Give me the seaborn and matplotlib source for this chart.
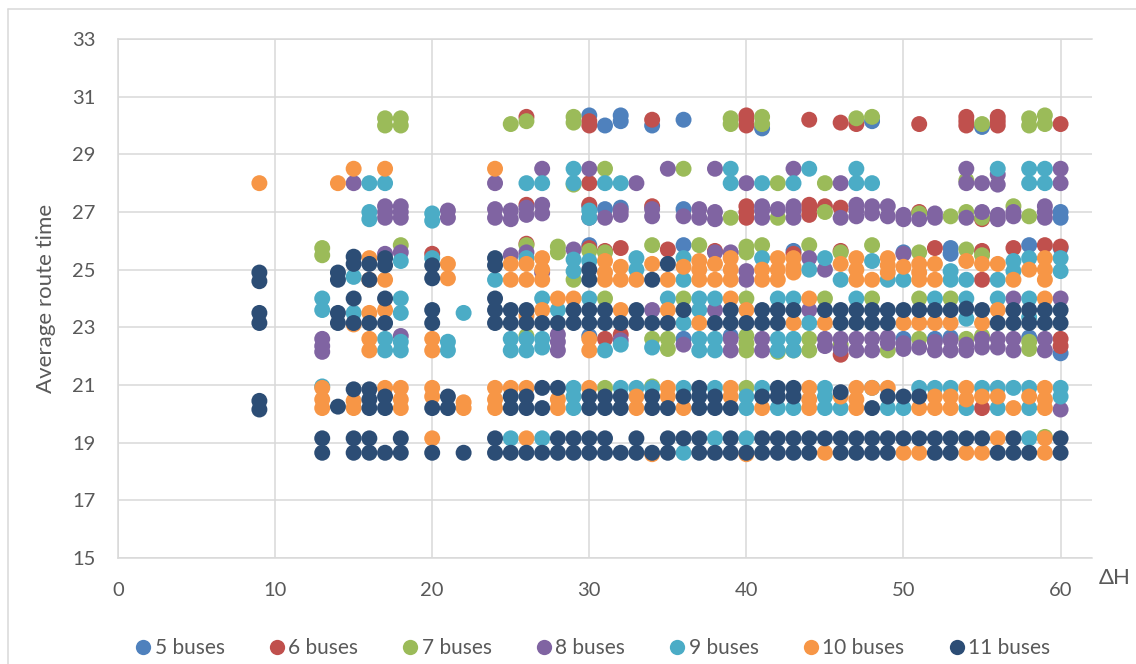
import pandas as pd
import matplotlib
matplotlib.use("Agg")
import matplotlib.pyplot as plt
from matplotlib.lines import Line2D
import seaborn as sns

sns.set_theme(style="white")
plt.rcParams["font.family"] = ["Lato", "DejaVu Sans"]

GREY_TXT = "#595959"
GRID = "#d9d9d9"

series_names = ["5 buses", "6 buses", "7 buses", "8 buses", "9 buses", "10 buses", "11 buses"]
series_colors = ["#4F81BD", "#C0504D", "#9BBB59", "#8064A2", "#4BACC6", "#F79646", "#2C4D75"]

# (delta H, average route time), one list per fleet size
bus5 = [(30, 30.35), (31, 30.0), (32, 30.15), (32, 30.35), (34, 30.0), (36, 30.2), (41, 29.9),
        (48, 30.15), (55, 29.95),
        (30, 27.2), (31, 27.1), (32, 27.15), (36, 27.1), (60, 26.8), (60, 27.0),
        (30, 25.85), (36, 25.85), (43, 25.65), (50, 25.6), (53, 25.55), (53, 25.75), (58, 25.85),
        (60, 25.75),
        (30, 22.7), (36, 22.6), (39, 22.7), (50, 22.6), (52, 22.6), (53, 22.65), (58, 22.65), (60, 22.1)]

bus6 = [(26, 30.3), (30, 30.0), (30, 30.15), (34, 30.2), (40, 30.0), (40, 30.2), (40, 30.35),
        (44, 30.2), (46, 30.1), (47, 30.05), (51, 30.05), (54, 30.0), (54, 30.15), (54, 30.3),
        (56, 30.0), (56, 30.15), (56, 30.3), (60, 30.05),
        (30, 28.0),
        (26, 27.25), (30, 27.25), (34, 27.2), (40, 26.8), (40, 27.0), (40, 27.2), (44, 26.9),
        (44, 27.1), (44, 27.25), (45, 27.2), (46, 27.15), (51, 27.0), (55, 26.75),
        (20, 25.55), (26, 25.9), (30, 25.75), (31, 25.65), (32, 25.75), (35, 25.7), (38, 25.65),
        (43, 25.55), (46, 25.65), (52, 25.75), (55, 25.65), (57, 25.75), (59, 25.85), (60, 25.8),
        (55, 24.65),
        (31, 22.6), (32, 22.75), (46, 22.05), (60, 22.35), (60, 22.6),
        (55, 20.2)]

bus7 = [(17, 30.0), (17, 30.25), (18, 30.0), (18, 30.25), (25, 30.05), (26, 30.15), (29, 30.1),
        (29, 30.3), (39, 30.05), (39, 30.25), (41, 30.05), (41, 30.3), (47, 30.25), (48, 30.3),
        (55, 30.05), (58, 30.0), (58, 30.25), (59, 30.05), (59, 30.35),
        (29, 27.95), (31, 28.5), (36, 28.5), (42, 28.0), (45, 28.0), (54, 28.1),
        (39, 26.8), (42, 26.8), (45, 27.0), (51, 26.95), (53, 26.85), (54, 27.0), (55, 26.8),
        (57, 27.2), (58, 26.85),
        (13, 25.5), (13, 25.75), (18, 25.85), (26, 25.85), (28, 25.6), (28, 25.8), (30, 25.65),
        (31, 25.6), (34, 25.85), (37, 25.85), (40, 25.6), (40, 25.8), (41, 25.85), (44, 25.85),
        (46, 25.6), (48, 25.85), (51, 25.6), (54, 25.7), (55, 25.5), (29, 24.65),
        (31, 24.0), (36, 24.0), (40, 24.0), (45, 24.0), (48, 24.0), (51, 24.0), (53, 24.0),
        (26, 22.7), (34, 22.6), (35, 22.25), (35, 22.6), (40, 22.2), (40, 22.45), (40, 22.7),
        (42, 22.15), (43, 22.2), (44, 22.2), (44, 22.6), (46, 22.4), (49, 22.2), (51, 22.6),
        (54, 22.6), (55, 22.7), (58, 22.25), (58, 22.5),
        (31, 20.9), (34, 20.95), (40, 20.9), (59, 19.2)]

bus8 = [(15, 28.0), (24, 28.0), (27, 28.5), (30, 28.5), (33, 28.0), (35, 28.5), (38, 28.5),
        (40, 28.0), (43, 28.5), (46, 28.0), (54, 28.5), (54, 28.0), (55, 28.0), (56, 28.3),
        (56, 27.95), (60, 28.5), (60, 28.0),
        (17, 26.8), (17, 27.0), (17, 27.2), (18, 26.8), (18, 27.0), (18, 27.2), (21, 26.8),
        (21, 27.05), (24, 26.8), (24, 27.1), (25, 26.75), (25, 27.05), (26, 26.9), (26, 27.15),
        (27, 26.95), (27, 27.25), (30, 26.8), (31, 26.8), (32, 26.9), (32, 27.05), (34, 26.85),
        (34, 27.1), (36, 26.85), (37, 26.8), (37, 27.1), (38, 26.75), (38, 27.0), (41, 26.8),
        (41, 27.05), (41, 27.2), (42, 27.1), (43, 26.8), (43, 27.05), (43, 27.2), (46, 26.8),
        (47, 26.85), (47, 27.05), (47, 27.25), (48, 26.95), (48, 27.2), (49, 26.85), (49, 27.2),
        (50, 26.75), (50, 26.9), (51, 26.75), (52, 26.8), (52, 26.95), (54, 26.8), (55, 27.0),
        (56, 26.75), (56, 26.9), (57, 26.85), (57, 27.0), (59, 26.8), (59, 27.0), (59, 27.2),
        (17, 25.55), (18, 25.6), (25, 25.5), (26, 25.6), (29, 25.7), (38, 25.6), (39, 25.6),
        (44, 25.4), (45, 25.0), (50, 25.55),
        (27, 24.9), (40, 24.65), (40, 24.95),
        (34, 23.6), (38, 23.6), (44, 23.6), (57, 24.0), (60, 24.0),
        (13, 22.15), (13, 22.35), (13, 22.6), (18, 22.7), (28, 22.2), (28, 22.5), (28, 22.75),
        (32, 22.55), (36, 22.4), (39, 22.2), (39, 22.6), (41, 22.2), (41, 22.6), (45, 22.35),
        (45, 22.6), (46, 22.25), (46, 22.6), (47, 22.2), (47, 22.6), (48, 22.2), (48, 22.6),
        (49, 22.45), (49, 22.65), (50, 22.25), (50, 22.45), (51, 22.3), (52, 22.2), (52, 22.5),
        (53, 22.2), (53, 22.55), (54, 22.2), (54, 22.4), (55, 22.3), (55, 22.6), (56, 22.3),
        (56, 22.6), (57, 22.2), (57, 22.6), (59, 22.2), (59, 22.6),
        (60, 20.15)]

bus9 = [(16, 28.0), (17, 28.0), (26, 28.0), (27, 28.0), (29, 28.5), (29, 28.0), (31, 28.0),
        (32, 28.0), (39, 28.5), (39, 28.0), (41, 28.0), (43, 28.0), (44, 28.5), (47, 28.5),
        (47, 28.0), (48, 28.0), (56, 28.5), (58, 28.5), (58, 28.0), (59, 28.5), (59, 28.0),
        (16, 26.75), (16, 27.0), (20, 26.7), (20, 26.95), (30, 26.8), (30, 27.05),
        (15, 24.75), (18, 25.3), (20, 25.4), (24, 24.65), (26, 25.4), (29, 25.35), (29, 24.95),
        (30, 25.3), (33, 25.4), (33, 25.0), (36, 25.4), (36, 24.65), (41, 25.4), (44, 25.0),
        (45, 25.4), (46, 24.65), (48, 25.3), (49, 24.65), (50, 24.65), (53, 24.95), (53, 24.65),
        (54, 24.65), (56, 24.65), (57, 25.3), (57, 24.95), (58, 25.4), (60, 25.4), (60, 24.95),
        (13, 24.0), (13, 23.6), (15, 23.5), (18, 24.0), (18, 23.5), (22, 23.5), (27, 24.0),
        (28, 23.6), (30, 24.0), (35, 24.0), (36, 23.15), (37, 24.0), (37, 23.6), (38, 24.0),
        (42, 24.0), (43, 24.0), (44, 23.15), (47, 24.0), (52, 24.0), (54, 24.0), (54, 23.3),
        (56, 24.0), (58, 24.0), (58, 23.35),
        (17, 22.2), (17, 22.6), (18, 22.2), (18, 22.5), (21, 22.2), (21, 22.5), (25, 22.2),
        (25, 22.6), (26, 22.2), (26, 22.6), (27, 22.3), (27, 22.6), (31, 22.2), (32, 22.4),
        (34, 22.3), (37, 22.2), (37, 22.6), (38, 22.2), (38, 22.6), (42, 22.2), (42, 22.6),
        (43, 22.2), (43, 22.6),
        (13, 20.95), (29, 20.2), (29, 20.6), (29, 20.9), (32, 20.9), (33, 20.9), (34, 20.9),
        (36, 20.9), (38, 20.9), (40, 20.6), (40, 20.2), (41, 20.9), (42, 20.2), (43, 20.2),
        (45, 20.2), (45, 20.6), (45, 20.9), (46, 20.2), (48, 20.9), (49, 20.2), (50, 20.2),
        (51, 20.9), (52, 20.9), (53, 20.9), (54, 20.2), (55, 20.9), (56, 20.9), (56, 20.2),
        (57, 20.9), (58, 20.9), (58, 20.2), (60, 20.6), (60, 20.9),
        (25, 19.15), (27, 19.15), (38, 19.15), (40, 19.15), (58, 19.15), (36, 18.65)]

bus10 = [(9, 28.0), (14, 28.0), (15, 28.5), (17, 28.5), (24, 28.5),
         (16, 25.4), (16, 24.65), (17, 24.65), (21, 25.2), (21, 24.7), (25, 25.2), (25, 24.65),
         (26, 25.2), (26, 24.65), (27, 25.4), (27, 25.0), (27, 24.65), (31, 25.3), (31, 24.9),
         (31, 24.65), (32, 25.1), (32, 24.65), (33, 24.65), (34, 25.2), (35, 24.65), (36, 25.1),
         (37, 25.3), (37, 25.0), (37, 24.65), (38, 25.2), (38, 24.65), (39, 25.4), (39, 25.0),
         (39, 24.65), (41, 25.0), (41, 24.65), (42, 25.4), (42, 25.0), (42, 24.65), (43, 25.4),
         (43, 25.1), (43, 24.9), (46, 25.2), (47, 25.4), (47, 25.0), (47, 24.65), (48, 24.65),
         (49, 25.4), (49, 25.15), (49, 24.9), (50, 25.1), (51, 25.2), (51, 24.9), (51, 24.65),
         (52, 25.2), (52, 24.65), (54, 25.3), (55, 25.2), (56, 25.2), (57, 24.65), (58, 25.0),
         (59, 25.4), (59, 25.0), (59, 24.65),
         (15, 23.1), (16, 23.5), (17, 23.6), (26, 23.4), (27, 23.6), (28, 24.0), (29, 24.0),
         (32, 23.6), (35, 23.6), (37, 23.15), (39, 24.0), (40, 23.6), (43, 23.15), (44, 24.0),
         (45, 23.15), (50, 23.15), (51, 23.15), (52, 23.15), (53, 23.15), (55, 23.15), (56, 23.6),
         (59, 24.0),
         (16, 22.2), (16, 22.6), (20, 22.2), (20, 22.6), (30, 22.2), (30, 22.6),
         (13, 20.2), (13, 20.5), (13, 20.9), (15, 20.2), (15, 20.45), (17, 20.9), (18, 20.2),
         (18, 20.5), (18, 20.9), (20, 20.6), (20, 20.9), (22, 20.2), (22, 20.4), (24, 20.2),
         (24, 20.5), (24, 20.9), (25, 20.9), (26, 20.9), (28, 20.2), (28, 20.5), (30, 20.9),
         (33, 20.2), (33, 20.6), (35, 20.6), (35, 20.9), (36, 20.2), (39, 20.6), (39, 20.9),
         (41, 20.2), (44, 20.2), (44, 20.5), (44, 20.9), (46, 20.6), (47, 20.2), (47, 20.5),
         (47, 20.9), (48, 20.9), (49, 20.9), (51, 20.2), (52, 20.2), (52, 20.6), (53, 20.2),
         (53, 20.6), (54, 20.5), (54, 20.9), (55, 20.6), (56, 20.6), (57, 20.2), (58, 20.6),
         (59, 20.2), (59, 20.5), (59, 20.9),
         (20, 19.15), (26, 19.15), (56, 19.15), (59, 19.15), (34, 18.6), (40, 18.6), (45, 18.65),
         (50, 18.65), (51, 18.65), (54, 18.65), (55, 18.65), (59, 18.65)]

bus11 = [(9, 24.9), (9, 24.6), (14, 24.9), (14, 24.65), (15, 25.45), (15, 25.2), (16, 25.2),
         (16, 24.65), (17, 25.4), (17, 25.15), (20, 25.15), (20, 24.7), (24, 25.4), (24, 25.15),
         (30, 25.0), (30, 24.65), (34, 24.65), (35, 25.2),
         (9, 23.5), (9, 23.15), (14, 23.5), (14, 23.15), (15, 24.0), (15, 23.15), (16, 23.15),
         (17, 24.0), (17, 23.15), (20, 23.6), (20, 23.15), (24, 24.0), (24, 23.6), (24, 23.15),
         (25, 23.6), (25, 23.15), (26, 23.6), (26, 23.15), (27, 23.15), (28, 23.15), (29, 23.6),
         (29, 23.15), (30, 23.6), (30, 23.15), (31, 23.6), (31, 23.15), (32, 23.15), (33, 23.6),
         (33, 23.15), (34, 23.15), (35, 23.15), (36, 23.6), (38, 23.15), (39, 23.6), (39, 23.15),
         (40, 23.15), (41, 23.6), (41, 23.15), (42, 23.6), (42, 23.15), (43, 23.6), (45, 23.6),
         (46, 23.6), (46, 23.15), (47, 23.6), (47, 23.15), (48, 23.6), (48, 23.15), (49, 23.6),
         (49, 23.15), (50, 23.6), (51, 23.6), (52, 23.6), (53, 23.6), (54, 23.65), (55, 23.6),
         (56, 23.15), (57, 23.6), (57, 23.15), (58, 23.6), (58, 23.15), (59, 23.6), (59, 23.15),
         (60, 23.6), (60, 23.15),
         (9, 20.45), (9, 20.15), (14, 20.25), (15, 20.85), (16, 20.2), (16, 20.5), (16, 20.85),
         (17, 20.6), (17, 20.2), (20, 20.2), (21, 20.6), (21, 20.2), (25, 20.6), (25, 20.2),
         (26, 20.6), (26, 20.2), (27, 20.9), (27, 20.2), (28, 20.9), (30, 20.6), (30, 20.2),
         (31, 20.6), (31, 20.2), (32, 20.6), (32, 20.2), (34, 20.6), (34, 20.2), (35, 20.2),
         (36, 20.6), (37, 20.9), (37, 20.6), (37, 20.2), (38, 20.6), (38, 20.2), (39, 20.2),
         (41, 20.6), (42, 20.9), (42, 20.6), (43, 20.9), (43, 20.6), (46, 20.75), (48, 20.2),
         (49, 20.6), (50, 20.6), (51, 20.6),
         (13, 19.15), (15, 19.15), (16, 19.15), (18, 19.15), (24, 19.15), (28, 19.15), (29, 19.15),
         (30, 19.15), (31, 19.15), (33, 19.15), (35, 19.15), (36, 19.15), (37, 19.15), (39, 19.15),
         (41, 19.15), (42, 19.15), (43, 19.15), (44, 19.15), (45, 19.15), (46, 19.15), (47, 19.15),
         (48, 19.15), (49, 19.15), (50, 19.15), (51, 19.15), (52, 19.15), (53, 19.15), (54, 19.15),
         (55, 19.15), (57, 19.15), (60, 19.15),
         (13, 18.65), (15, 18.65), (16, 18.65), (17, 18.65), (18, 18.65), (20, 18.65), (22, 18.65),
         (24, 18.65), (25, 18.65), (26, 18.65), (27, 18.65), (28, 18.65), (29, 18.65), (30, 18.65),
         (31, 18.65), (32, 18.65), (33, 18.65), (34, 18.65), (35, 18.65), (37, 18.65), (38, 18.65),
         (39, 18.65), (40, 18.65), (41, 18.65), (42, 18.65), (43, 18.65), (44, 18.65), (46, 18.65),
         (47, 18.65), (48, 18.65), (49, 18.65), (52, 18.65), (53, 18.65), (56, 18.65), (57, 18.65),
         (58, 18.65), (60, 18.65)]

all_series = [bus5, bus6, bus7, bus8, bus9, bus10, bus11]

# long table, series in drawing order (11 buses ends up on top)
frames = []
for name, pts in zip(series_names, all_series):
    d = pd.DataFrame(pts, columns=["dh", "t"])
    d["series"] = name
    frames.append(d)
df = pd.concat(frames, ignore_index=True)

fig = plt.figure(figsize=(11.36, 6.64), dpi=100)
ax = fig.add_axes([118 / 1136, 1 - 558 / 664, (1092 - 118) / 1136, (558 - 39) / 664])

sns.scatterplot(data=df, x="dh", y="t", hue="series", hue_order=series_names,
                palette=dict(zip(series_names, series_colors)), s=132, linewidth=0,
                alpha=1, legend=False, ax=ax, zorder=3)

ax.set_xlim(0, 62)
ax.set_ylim(15, 33)
ax.set_xticks(range(0, 61, 10))
ax.set_yticks(range(15, 34, 2))
ax.grid(True, color=GRID, linewidth=1.1)
ax.set_axisbelow(True)
for side in ["left", "bottom", "top"]:
    ax.spines[side].set_visible(True)
    ax.spines[side].set_color(GRID)
    ax.spines[side].set_linewidth(1.1)
ax.spines["right"].set_visible(False)
ax.tick_params(axis="both", length=0, labelsize=14.5, labelcolor=GREY_TXT)
ax.tick_params(axis="y", pad=16)
ax.tick_params(axis="x", pad=17)
ax.set_xlabel("")
ax.set_ylabel("Average route time", fontsize=16, color=GREY_TXT, labelpad=12)

fig.text(1115 / 1136, 1 - 578 / 664, "\u0394H", fontsize=16, color=GREY_TXT,
         ha="center", va="center")

handles = [Line2D([], [], marker="o", linestyle="", markersize=11, markeredgewidth=0,
                  markerfacecolor=c) for c in series_colors]
leg = fig.legend(handles, series_names, loc="center", ncol=7,
                 bbox_to_anchor=(0.5225, 1 - 648 / 664), frameon=False, fontsize=15,
                 handlelength=0.6, handletextpad=0.25, columnspacing=2.2)
for t in leg.get_texts():
    t.set_color(GREY_TXT)

# chart-area border (left and top edges visible in the crop)
fig.add_artist(Line2D([8 / 1136, 8 / 1136], [0, 1 - 9 / 664], transform=fig.transFigure,
                      color=GRID, linewidth=1.1))
fig.add_artist(Line2D([8 / 1136, 1], [1 - 9 / 664, 1 - 9 / 664], transform=fig.transFigure,
                      color=GRID, linewidth=1.1))

fig.savefig("out.png", dpi=100)
